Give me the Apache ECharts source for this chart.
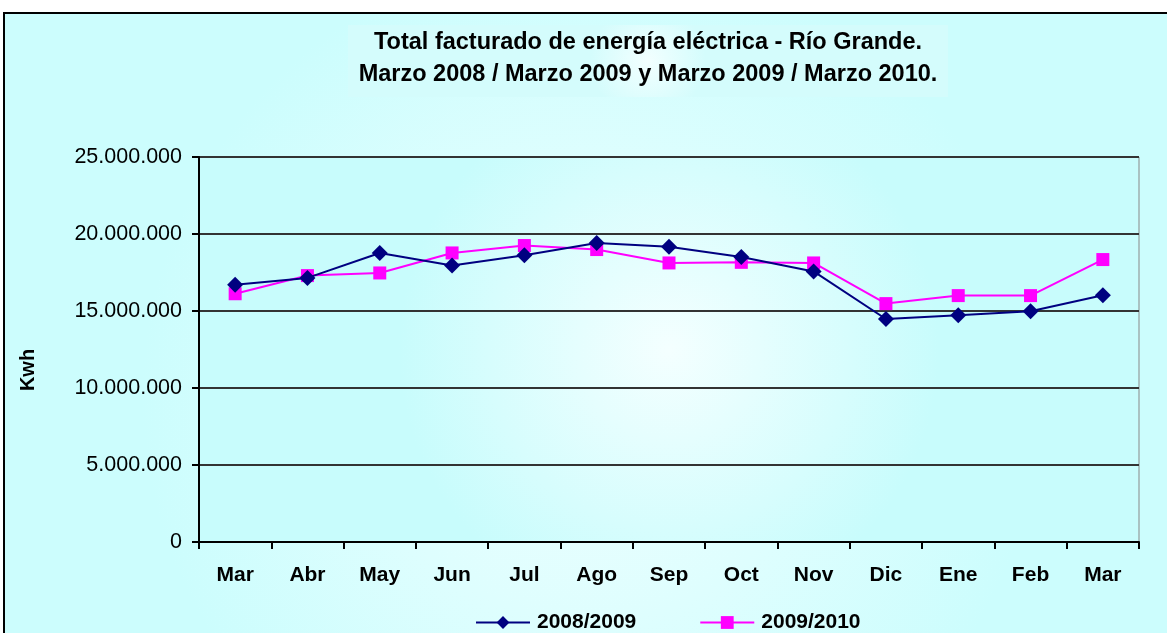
<!DOCTYPE html>
<html><head><meta charset="utf-8">
<script src="https://cdn.jsdelivr.net/npm/echarts@6/dist/echarts.min.js"></script>
<style>html,body{margin:0;padding:0;background:#fff;}#c{width:1167px;height:633px;}</style>
</head><body><div id="c"></div>
<script>
const categories = ['Mar','Abr','May','Jun','Jul','Ago','Sep','Oct','Nov','Dic','Ene','Feb','Mar'];
const serie2008 = [16700000,17150000,18770000,17950000,18620000,19420000,19170000,18500000,17570000,14480000,14720000,14980000,16020000];
const serie2010 = [16120000,17300000,17470000,18770000,19250000,18990000,18120000,18160000,18120000,15480000,16000000,16000000,18340000];
const seriesNames = ['2008/2009','2009/2010'];
const titleLines = ['Total facturado de energía eléctrica - Río Grande.','Marzo 2008 / Marzo 2009 y Marzo 2009 / Marzo 2010.'];
const yAxisName = 'Kwh';

const chart = echarts.init(document.getElementById('c'));
const FONT = 'Liberation Sans, Arial, sans-serif';
const fmt = v => String(v).replace(/\B(?=(\d{3})+(?!\d))/g, '.');
const radial = {type:'radial',x:0.5,y:0.5,r:0.7,colorStops:[{offset:0,color:'#f4ffff'},{offset:1,color:'#c8fcfc'}]};
chart.setOption({
  backgroundColor:'#ffffff',
  animation:false,
  graphic:[
    {type:'rect',z:-10,shape:{x:4,y:13,width:1175,height:640},style:{fill:{type:'radial',x:0.5,y:0.6,r:0.7,colorStops:[{offset:0,color:'#f0ffff'},{offset:1,color:'#ccfdfd'}]},stroke:'#000',lineWidth:2}},
    {type:'rect',z:-9,shape:{x:348,y:25,width:600,height:72},style:{fill:{type:'radial',x:0.5,y:0.5,r:0.8,colorStops:[{offset:0,color:'#f2ffff'},{offset:1,color:'#d4fcfc'}]}}},
    {type:'text',x:28,y:370,rotation:Math.PI/2,z:10,style:{text:yAxisName,fontFamily:FONT,fontWeight:'bold',fontSize:20,fill:'#000',align:'center',verticalAlign:'middle'}}
  ],
  title:{text:titleLines.join('\n'),left:643,top:22,textAlign:'center',
    textStyle:{fontFamily:FONT,fontWeight:'bold',fontSize:23.5,lineHeight:32,color:'#000'}},
  grid:{left:199,right:28,top:157,bottom:91,show:true,backgroundColor:radial,borderColor:'#888',borderWidth:1},
  legend:{top:607,left:470,itemGap:63,itemWidth:54,itemHeight:16,
    textStyle:{fontFamily:FONT,fontWeight:'bold',fontSize:21,color:'#000',padding:[0,0,0,2]},
    data:seriesNames},
  xAxis:{type:'category',data:categories,boundaryGap:true,
    axisLine:{lineStyle:{color:'#000',width:2}},
    axisTick:{show:true,inside:false,length:7,lineStyle:{color:'#000',width:2}},
    axisLabel:{fontFamily:FONT,fontWeight:'bold',fontSize:21,color:'#000',margin:23}},
  yAxis:{type:'value',min:0,max:25000000,interval:5000000,
    axisLine:{show:true,lineStyle:{color:'#000',width:2}},
    axisTick:{show:true,length:7,lineStyle:{color:'#000',width:2}},
    splitLine:{lineStyle:{color:'#333',width:2}},
    axisLabel:{formatter:fmt,fontFamily:FONT,fontSize:21.5,color:'#000',margin:17}},
  series:[
    {name:seriesNames[0],type:'line',data:serie2008,symbol:'diamond',symbolSize:16,
      lineStyle:{color:'#000080',width:2},itemStyle:{color:'#000080'},z:3},
    {name:seriesNames[1],type:'line',data:serie2010,symbol:'rect',symbolSize:13,
      lineStyle:{color:'#ff00ff',width:2},itemStyle:{color:'#ff00ff'},z:2}
  ]
});
</script></body></html>
